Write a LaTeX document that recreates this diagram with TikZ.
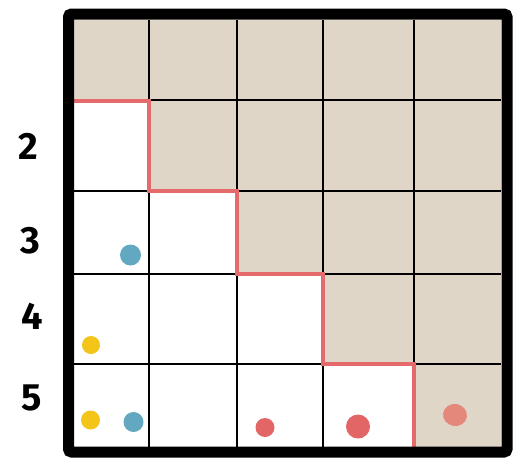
\documentclass[tikz,border=0pt]{standalone}
\usepackage{fontspec}
\usetikzlibrary{shapes.geometric}
\newfontfamily\labfont{Fira Sans}
\definecolor{beige}{HTML}{DFD6C8}
\definecolor{stair}{HTML}{E46A6B}
\definecolor{dotblue}{HTML}{62A8C0}
\definecolor{dotyellow}{HTML}{F2C518}
\definecolor{dotred}{HTML}{E36666}
\definecolor{dotsalmon}{HTML}{E4887C}
\tikzset{
  gridline/.style={line width=2.5pt, black},
  border/.style={line width=11pt, black, rounded corners=3pt},
  stairline/.style={line width=4.5pt, stair, line join=miter},
  rowlabel/.style={font=\labfont\bfseries\fontsize{38}{38}\selectfont, inner sep=0pt},
  dot/.style={circle, inner sep=0pt, draw=none}
}
\begin{document}
\begin{tikzpicture}[x=1pt,y=-1pt]
\useasboundingbox (0,0) rectangle (529,467);
% shaded region
\fill[beige] (74,20) -- (501,20) -- (501,447) -- (414,447) -- (414,364) -- (323,364) -- (323,274) -- (237,274) -- (237,191) -- (149,191) -- (149,100) -- (74,100) -- cycle;
% grid lines
\foreach \x in {149,237,323,414} \draw[gridline] (\x,20) -- (\x,447);
\foreach \y in {100,191,274,364} \draw[gridline] (74,\y) -- (501,\y);
% staircase
\draw[stairline] (74,101) -- (149,101) -- (149,191) -- (237,191) -- (237,274) -- (323,274) -- (323,364) -- (414,364) -- (414,447);
% border
\draw[border] (68.5,14) rectangle (507,452);
% labels
\node[rowlabel] (l2) at (28,146) {2};
\node[rowlabel] (l3) at (30,241) {3};
\node[rowlabel] (l4) at (32,316) {4};
\node[rowlabel] (l5) at (32,398) {5};
% dots
\node[dot, fill=dotblue, minimum size=21pt] (b1) at (130.5,255) {};
\node[dot, fill=dotyellow, minimum size=18pt] (y1) at (91,345) {};
\node[dot, fill=dotyellow, minimum size=19pt] (y2) at (90.5,420) {};
\node[dot, fill=dotblue, minimum size=20pt] (b2) at (133.5,422) {};
\node[dot, fill=dotred, minimum size=19pt] (r1) at (265,427.5) {};
\node[dot, fill=dotred, minimum size=24pt] (r2) at (358,426.5) {};
\node[ellipse, inner sep=0pt, fill=dotsalmon, minimum width=24pt, minimum height=22pt, rotate=-10] (s1) at (455,415) {};
\end{tikzpicture}
\end{document}
